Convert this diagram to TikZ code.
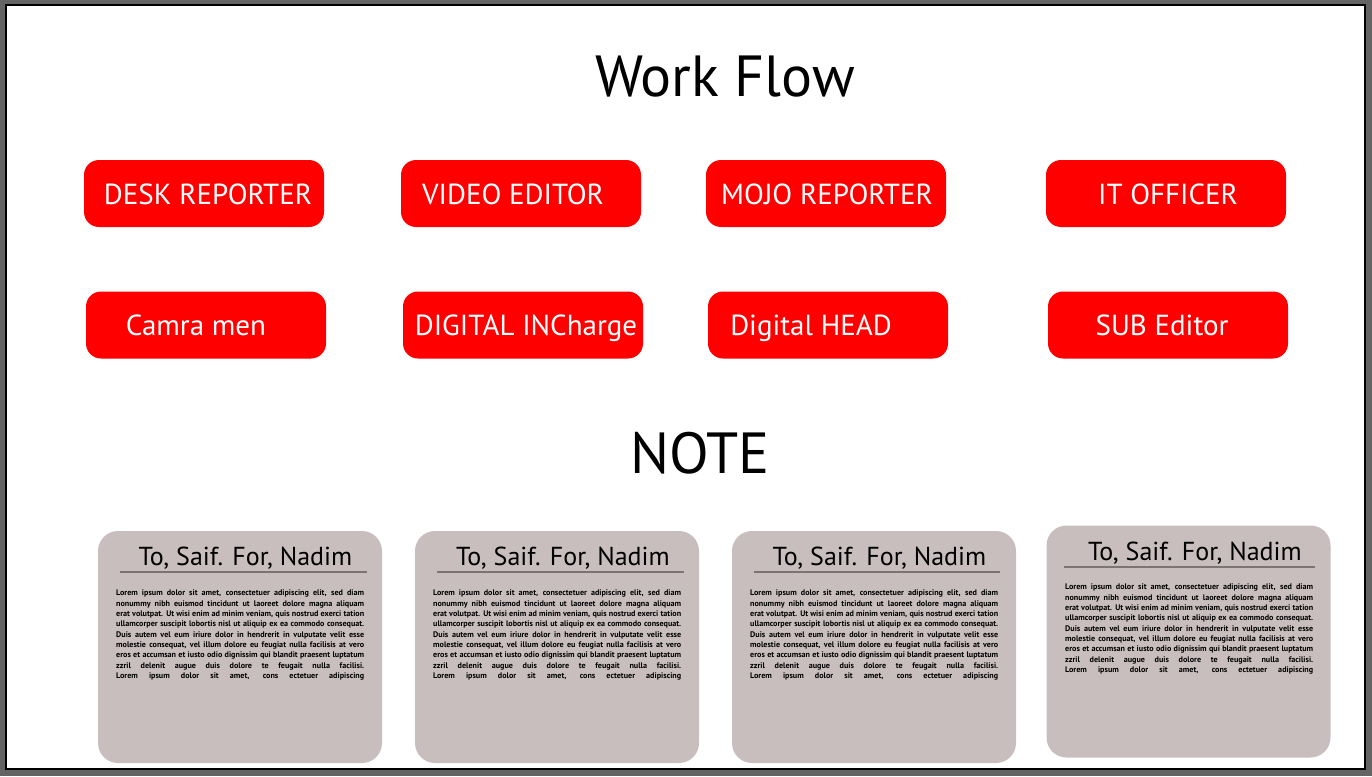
\documentclass[tikz,border=0pt]{standalone}
\usepackage{fontspec}
\setmainfont{PT Sans}
\definecolor{boxred}{HTML}{FF0000}
\definecolor{notefill}{HTML}{C9BEBE}
\definecolor{rulegray}{HTML}{7D7373}
\definecolor{framegray}{HTML}{646464}
\newcommand{\bodyline}[1]{\makebox[248pt][s]{#1}\\}
\newcommand{\bodytext}{%
\parbox[t]{248pt}{\fontsize{8.1pt}{10.3pt}\selectfont\bfseries\setlength{\parindent}{0pt}%
\bodyline{Lorem ipsum dolor sit amet, consectetuer adipiscing elit, sed diam}
\bodyline{nonummy nibh euismod tincidunt ut laoreet dolore magna aliquam}
\bodyline{erat volutpat. Ut wisi enim ad minim veniam, quis nostrud exerci tation}
\bodyline{ullamcorper suscipit lobortis nisl ut aliquip ex ea commodo consequat.}
\bodyline{Duis autem vel eum iriure dolor in hendrerit in vulputate velit esse}
\bodyline{molestie consequat, vel illum dolore eu feugiat nulla facilisis at vero}
\bodyline{eros et accumsan et iusto odio dignissim qui blandit praesent luptatum}
\bodyline{zzril delenit augue duis dolore te feugait nulla facilisi.}
\makebox[248pt][s]{Lorem ipsum dolor sit amet, cons ectetuer adipiscing}}}
\begin{document}
\begin{tikzpicture}[x=1pt,y=-1pt,
  rolebox/.style={draw=none,fill=boxred,rounded corners=15pt,minimum width=240pt,minimum height=67pt,inner sep=0pt},
  rolelabel/.style={anchor=base,text=white,font=\fontsize{29pt}{29pt}\selectfont,inner sep=0pt},
  notebox/.style={draw=none,fill=notefill,rounded corners=20pt,minimum width=284pt,minimum height=232pt,inner sep=0pt},
  notehead/.style={anchor=base,font=\fontsize{26pt}{26pt}\selectfont,inner sep=0pt},
  noterule/.style={draw=rulegray,line width=2pt},
  notebody/.style={anchor=north west,inner sep=0pt},
  bigtitle/.style={anchor=base,font=\fontsize{58pt}{58pt}\selectfont,inner sep=0pt}]
\useasboundingbox (0,0) rectangle (1372,776);
\fill[framegray] (0,0) rectangle (1372,776);
\draw[fill=white,line width=2pt] (6,5) rectangle (1365,769);
% titles
\node[bigtitle] (title) at (725,96) {Work Flow};
\node[bigtitle] (note) at (700,473) {NOTE};
% row 1
\node[rolebox] (b1) at (204,193.5) {};
\node[rolebox] (b2) at (521,193.5) {};
\node[rolebox] (b3) at (826,193.5) {};
\node[rolebox] (b4) at (1166,193.5) {};
\node[rolelabel] (t1) at (208,204) {DESK REPORTER};
\node[rolelabel] (t2) at (513,204) {VIDEO EDITOR};
\node[rolelabel] (t3) at (827,204) {MOJO REPORTER};
\node[rolelabel] (t4) at (1168,204) {IT OFFICER};
% row 2
\node[rolebox] (c1) at (206,325) {};
\node[rolebox] (c2) at (523,325) {};
\node[rolebox] (c3) at (828,325) {};
\node[rolebox] (c4) at (1168,325) {};
\node[rolelabel] (u1) at (196,335.5) {Camra men};
\node[rolelabel] (u2) at (526,335.5) {DIGITAL INCharge};
\node[rolelabel] (u3) at (811,335.5) {Digital HEAD};
\node[rolelabel] (u4) at (1162,335.5) {SUB Editor};
% notes
\node[notebox] (n1) at (240,647) {};
\node[notebox] (n2) at (557,647) {};
\node[notebox] (n3) at (874,647) {};
\node[notebox] (n4) at (1188.5,641.5) {};
\node[notehead] (h1) at (245.5,565) {To, Saif. For, Nadim};
\node[notehead] (h2) at (563,565) {To, Saif. For, Nadim};
\node[notehead] (h3) at (879.5,565) {To, Saif. For, Nadim};
\node[notehead] (h4) at (1195,560) {To, Saif. For, Nadim};
\coordinate (r1a) at (120,572); \coordinate (r1b) at (367,572);
\coordinate (r2a) at (437,572); \coordinate (r2b) at (684,572);
\coordinate (r3a) at (754,572); \coordinate (r3b) at (1000,572);
\coordinate (r4a) at (1064,567); \coordinate (r4b) at (1315,567);
\draw[noterule] (r1a) -- (r1b);
\draw[noterule] (r2a) -- (r2b);
\draw[noterule] (r3a) -- (r3b);
\draw[noterule] (r4a) -- (r4b);
\node[notebody] (p1) at (116,590) {\bodytext};
\node[notebody] (p2) at (433,590) {\bodytext};
\node[notebody] (p3) at (750,590) {\bodytext};
\node[notebody] (p4) at (1065,584) {\bodytext};
\end{tikzpicture}
\end{document}
